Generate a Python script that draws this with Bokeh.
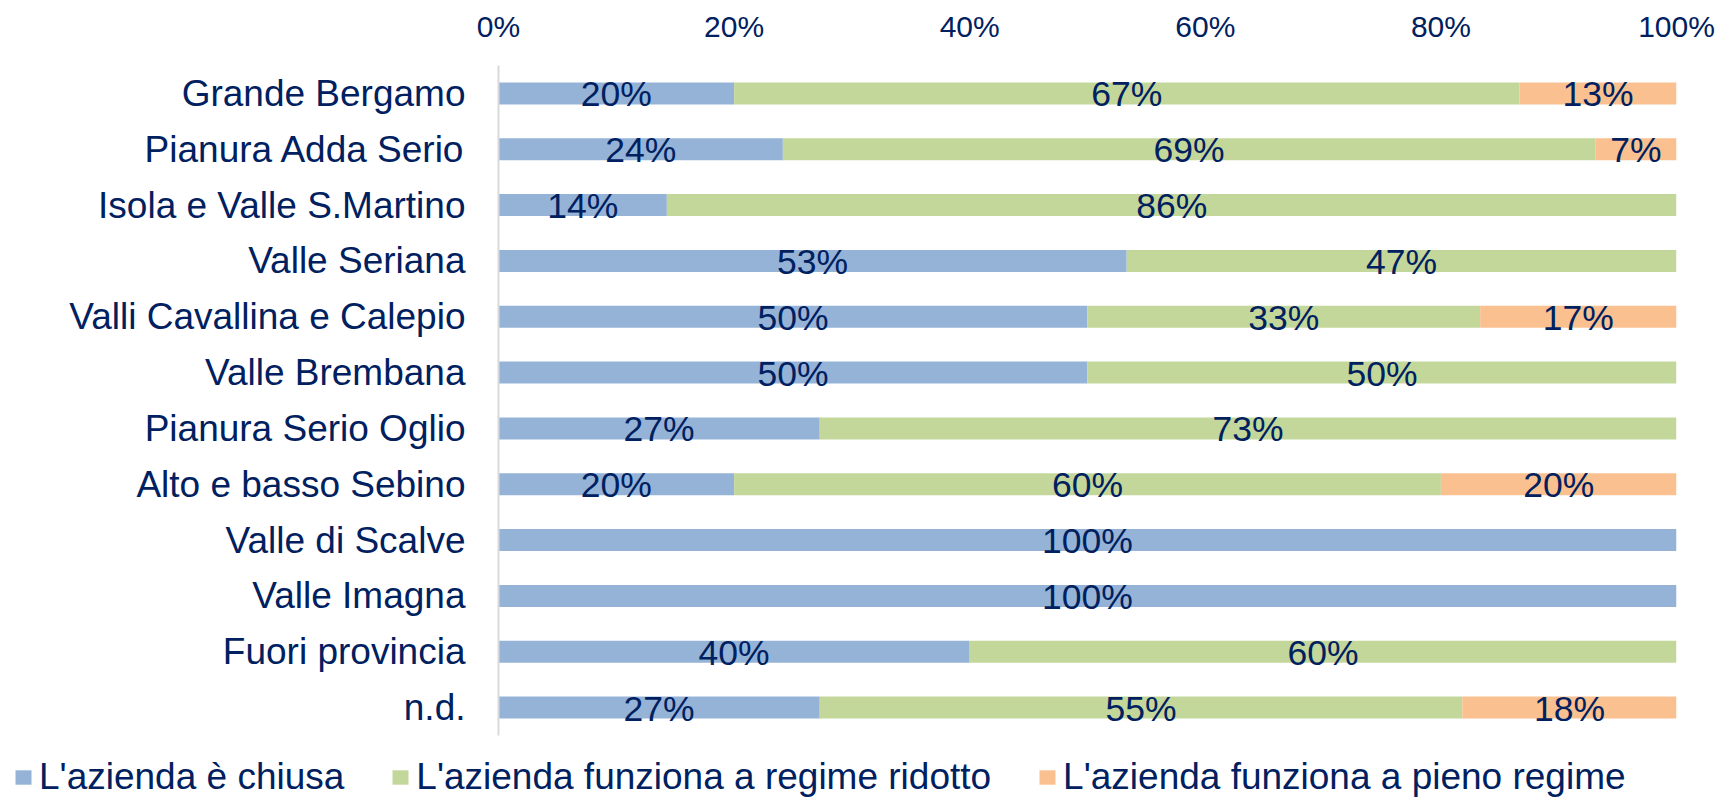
from bokeh.plotting import figure
from bokeh.layouts import column
from bokeh.models import ColumnDataSource, FactorRange, Range1d, FixedTicker, Legend, LegendItem
from bokeh.core.properties import value
from bokeh.embed import file_html
from bokeh.resources import INLINE

# ---- data ----
categories = ["Grande Bergamo", "Pianura Adda Serio", "Isola e Valle S.Martino",
              "Valle Seriana", "Valli Cavallina e Calepio", "Valle Brembana",
              "Pianura Serio Oglio", "Alto e basso Sebino", "Valle di Scalve",
              "Valle Imagna", "Fuori provincia", "n.d."]
chiusa  = [20.0, 24.14, 14.29, 53.33, 50.0, 50.0, 27.27, 20.0, 100.0, 100.0, 40.0, 27.27]
ridotto = [66.67, 68.97, 85.71, 46.67, 33.33, 50.0, 72.73, 60.0, 0.0, 0.0, 60.0, 54.55]
pieno   = [13.33, 6.90, 0.0, 0.0, 16.67, 0.0, 0.0, 20.0, 0.0, 0.0, 0.0, 18.18]
series_names = ["L'azienda è chiusa", "L'azienda funziona a regime ridotto",
                "L'azienda funziona a pieno regime"]
series_colors = ["#95B3D7", "#C4D79B", "#FAC090"]
tick_values = [0, 20, 40, 60, 80, 100]
tick_labels = ["0%", "20%", "40%", "60%", "80%", "100%"]

FONT = "Liberation Sans"
TXT = "#002060"

src = ColumnDataSource(dict(cat=categories, chiusa=chiusa, ridotto=ridotto, pieno=pieno))

fig = figure(width=1721, height=736, output_backend="svg", toolbar_location=None,
             y_range=FactorRange(factors=list(reversed(categories))),
             x_range=Range1d(0, 100), x_axis_location="above",
             min_border_left=498, min_border_right=45, min_border_top=65, min_border_bottom=1)
fig.frame_align = False
fig.outline_line_color = None
fig.xgrid.visible = False
fig.ygrid.visible = False

rs = fig.hbar_stack(["chiusa", "ridotto", "pieno"], y="cat", height=0.394,
                    color=series_colors, line_color=None, source=src)

# data labels
lx, ly, lt = [], [], []
for i, c in enumerate(categories):
    left = 0.0
    for vals in (chiusa, ridotto, pieno):
        v = vals[i]
        if v > 0:
            lx.append(left + v / 2)
            ly.append(c)
            lt.append(f"{int(v + 0.5)}%")
        left += v
fig.text(x="x", y="y", text="t", source=ColumnDataSource(dict(x=lx, y=ly, t=lt)),
         text_align="center", text_baseline="middle", text_font=value(FONT),
         text_font_size="35.5px", text_color=TXT, y_offset=1)

# x axis (top)
xa = fig.xaxis[0]
xa.ticker = FixedTicker(ticks=tick_values)
xa.major_label_overrides = {v: l for v, l in zip(tick_values, tick_labels)}
xa.axis_line_color = None
xa.major_tick_line_color = None
xa.minor_tick_line_color = None
xa.major_tick_out = 0
xa.major_tick_in = 0
xa.major_label_standoff = 23
xa.major_label_text_font = FONT
xa.major_label_text_font_size = "30px"
xa.major_label_text_color = TXT

# y axis
ya = fig.yaxis[0]
ya.axis_line_color = "#D9D9D9"
ya.axis_line_width = 2
ya.major_tick_line_color = None
ya.minor_tick_line_color = None
ya.major_tick_out = 0
ya.major_tick_in = 0
ya.major_label_standoff = 33
ya.major_label_text_font = FONT
ya.major_label_text_font_size = "37px"
ya.major_label_text_color = TXT

# legend strip (zero-height bars only serve as legend swatches)
leg = figure(width=1721, height=62, output_backend="svg", toolbar_location=None,
             x_range=Range1d(0, 100), y_range=FactorRange(factors=list(reversed(categories))),
             x_axis_location=None, y_axis_location=None,
             min_border_left=0, min_border_right=0, min_border_top=0, min_border_bottom=0)
leg.frame_align = False
leg.outline_line_color = None
leg.xgrid.visible = False
leg.ygrid.visible = False
lrs = leg.hbar_stack(["chiusa", "ridotto", "pieno"], y="cat", height=0,
                     color=series_colors, line_color=None, source=src)
legend = Legend(items=[LegendItem(label=n, renderers=[r]) for n, r in zip(series_names, lrs)],
                orientation="horizontal", location=(13, 0),
                glyph_width=20, glyph_height=18, label_standoff=6, spacing=46,
                padding=0, margin=0, border_line_color=None, background_fill_alpha=0,
                label_text_font=FONT, label_text_font_size="37px", label_text_color=TXT)
leg.add_layout(legend)

p = column(fig, leg, spacing=0)
open("out.html", "w").write(file_html(p, INLINE))
